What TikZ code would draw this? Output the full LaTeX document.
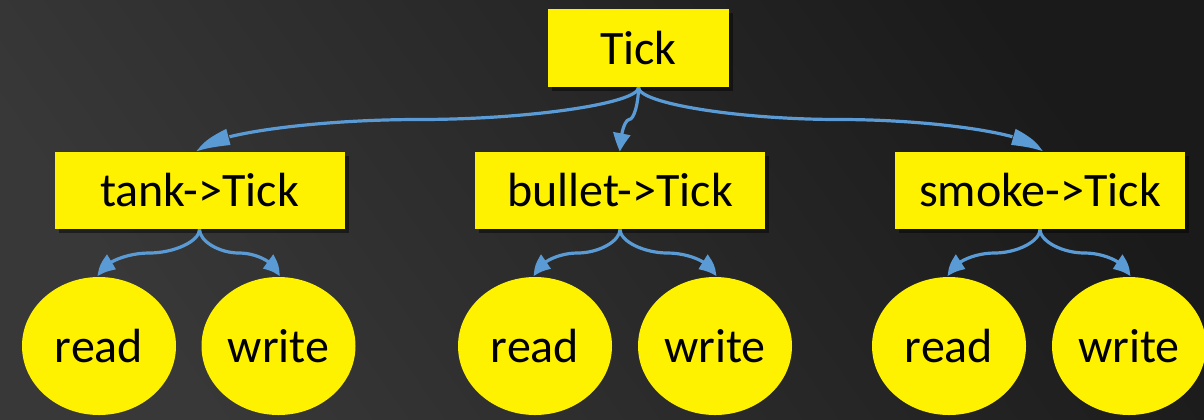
\documentclass[tikz,border=0pt]{standalone}
\usepackage{fontspec}
\setmainfont{Carlito}
\usetikzlibrary{arrows.meta,bending,calc,shadows,shapes.geometric}

\definecolor{linkblue}{HTML}{5B9BD5}
\definecolor{bgdark}{HTML}{1A1A1A}
\definecolor{bglight}{HTML}{383838}

\tikzset{
  labelfont/.style={font=\fontsize{24}{28}\selectfont, text=black},
  callbox/.style={labelfont, fill=yellow, draw=none, inner sep=0pt,
    minimum width=145pt, minimum height=38.5pt,
    drop shadow={shadow xshift=2pt, shadow yshift=-2pt, opacity=0.45, fill=black}},
  rootbox/.style={callbox, minimum width=90.5pt, minimum height=39pt},
  accessnode/.style={labelfont, ellipse, fill=yellow, draw=none, inner sep=0pt,
    minimum width=77pt, minimum height=69pt},
  link/.style={draw=linkblue, line width=1.6pt,
    -{Triangle[length=9pt, width=8.5pt, bend]}}
}

% Two-piece curved connector from the bottom of one node to the top of another
\newcommand\curvedlink[2]{%
  \draw[link] let \p1=(#1.south), \p2=(#2.north) in
    (\p1) .. controls (\x1,{\y1+0.25*(\y2-\y1)}) and ({\x1+0.25*(\x2-\x1)},{0.5*(\y1+\y2)})
    .. ({0.5*(\x1+\x2)},{0.5*(\y1+\y2)})
    .. controls ({\x1+0.75*(\x2-\x1)},{0.5*(\y1+\y2)}) and (\x2,{\y1+0.75*(\y2-\y1)})
    .. (\p2);}

\begin{document}
\begin{tikzpicture}[x=0.5pt, y=-0.5pt]
  % background
  \shade[top color=bgdark, bottom color=bglight, shading angle=-55]
    (0,0) rectangle (1204,419);
  \useasboundingbox (0,0) rectangle (1204,419);

  % call tree
  \node[rootbox] (tick) at (638.5,48) {Tick};

  \node[callbox] (tank)   at (199.5,190.5) {tank->Tick};
  \node[callbox] (bullet) at (620,190.5)   {bullet->Tick};
  \node[callbox] (smoke)  at (1040,190.5)  {smoke->Tick};

  \node[accessnode] (tankr)   at (99,346)   {read};
  \node[accessnode] (tankw)   at (278.5,346) {write};
  \node[accessnode] (bulletr) at (535,346)  {read};
  \node[accessnode] (bulletw) at (715,346)  {write};
  \node[accessnode] (smoker)  at (949,346)  {read};
  \node[accessnode] (smokew)  at (1129,346) {write};

  % connectors
  \curvedlink{tick}{tank}
  \curvedlink{tick}{bullet}
  \curvedlink{tick}{smoke}
  \curvedlink{tank}{tankr}
  \curvedlink{tank}{tankw}
  \curvedlink{bullet}{bulletr}
  \curvedlink{bullet}{bulletw}
  \curvedlink{smoke}{smoker}
  \curvedlink{smoke}{smokew}
\end{tikzpicture}
\end{document}
